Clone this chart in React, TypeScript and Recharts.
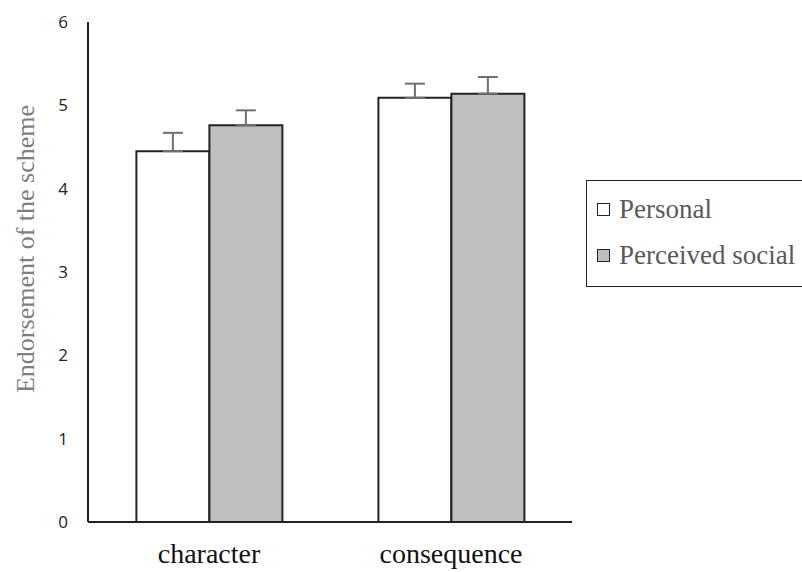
import React from "react";
import { BarChart, Bar, XAxis, YAxis, ErrorBar } from "recharts";

const categories = ["character", "consequence"];
const personal = [4.45, 5.09];
const personalErr = [0.22, 0.17];
const social = [4.76, 5.14];
const socialErr = [0.18, 0.2];
const yTicks = [0, 1, 2, 3, 4, 5, 6];
const legendItems = [
  { label: "Personal", fill: "#ffffff" },
  { label: "Perceived social", fill: "#bfbfbf" },
];

const data = categories.map((c, i) => ({
  name: c,
  personal: personal[i],
  personalErr: [0, personalErr[i]],
  social: social[i],
  socialErr: [0, socialErr[i]],
}));

const serif = "Liberation Serif, Times New Roman, serif";

const XTick = (props: any) => {
  const { x, y, payload } = props;
  return (
    <text x={x} y={y + 33} textAnchor="middle" fill="#111" fontFamily={serif} fontSize={28}>
      {payload.value}
    </text>
  );
};

const YTick = (props: any) => {
  const { x, y, payload } = props;
  return (
    <text x={x - 12} y={y + 6} textAnchor="end" fill="#222" fontFamily="Open Sans, sans-serif" fontSize={17}>
      {payload.value}
    </text>
  );
};

const LegendBox = () => (
  <div
    style={{
      position: "absolute",
      left: 586,
      top: 180,
      width: 240,
      height: 107,
      border: "1.5px solid #222",
      boxSizing: "border-box",
      paddingLeft: 10,
      paddingTop: 5,
      fontFamily: serif,
      fontSize: 27,
      color: "#595959",
    }}
  >
    {legendItems.map((it) => (
      <div key={it.label} style={{ display: "flex", alignItems: "center", height: 46 }}>
        <span
          style={{
            display: "inline-block",
            width: 11,
            height: 11,
            border: "1.5px solid #222",
            background: it.fill,
            marginRight: 9,
          }}
        />
        {it.label}
      </div>
    ))}
  </div>
);

export default function App() {
  return (
    <div style={{ position: "absolute", left: 0, top: 0, width: 802, height: 572, background: "#fff", overflow: "hidden" }}>
      <BarChart
        width={802}
        height={572}
        data={data}
        margin={{ top: 22, right: 230, bottom: 0, left: 0 }}
        barCategoryGap="20%"
        barGap={0}
      >
        <XAxis
          dataKey="name"
          tickLine={false}
          axisLine={{ stroke: "#222", strokeWidth: 2 }}
          height={50}
          tick={<XTick />}
        />
        <YAxis
          domain={[0, 6]}
          ticks={yTicks}
          width={88}
          tickLine={false}
          axisLine={{ stroke: "#222", strokeWidth: 2 }}
          tick={<YTick />}
          label={{
            value: "Endorsement of the scheme",
            angle: -90,
            position: "insideLeft",
            dx: 20,
            dy: -23,
            style: { textAnchor: "middle", fill: "#7f7f7f", fontFamily: serif, fontSize: 26 },
          }}
        />
        <Bar dataKey="personal" fill="#ffffff" stroke="#222" strokeWidth={2} isAnimationActive={false}>
          <ErrorBar dataKey="personalErr" stroke="#707070" strokeWidth={2} width={10} />
        </Bar>
        <Bar dataKey="social" fill="#bfbfbf" stroke="#222" strokeWidth={2} isAnimationActive={false}>
          <ErrorBar dataKey="socialErr" stroke="#707070" strokeWidth={2} width={10} />
        </Bar>
      </BarChart>
      <LegendBox />
    </div>
  );
}
